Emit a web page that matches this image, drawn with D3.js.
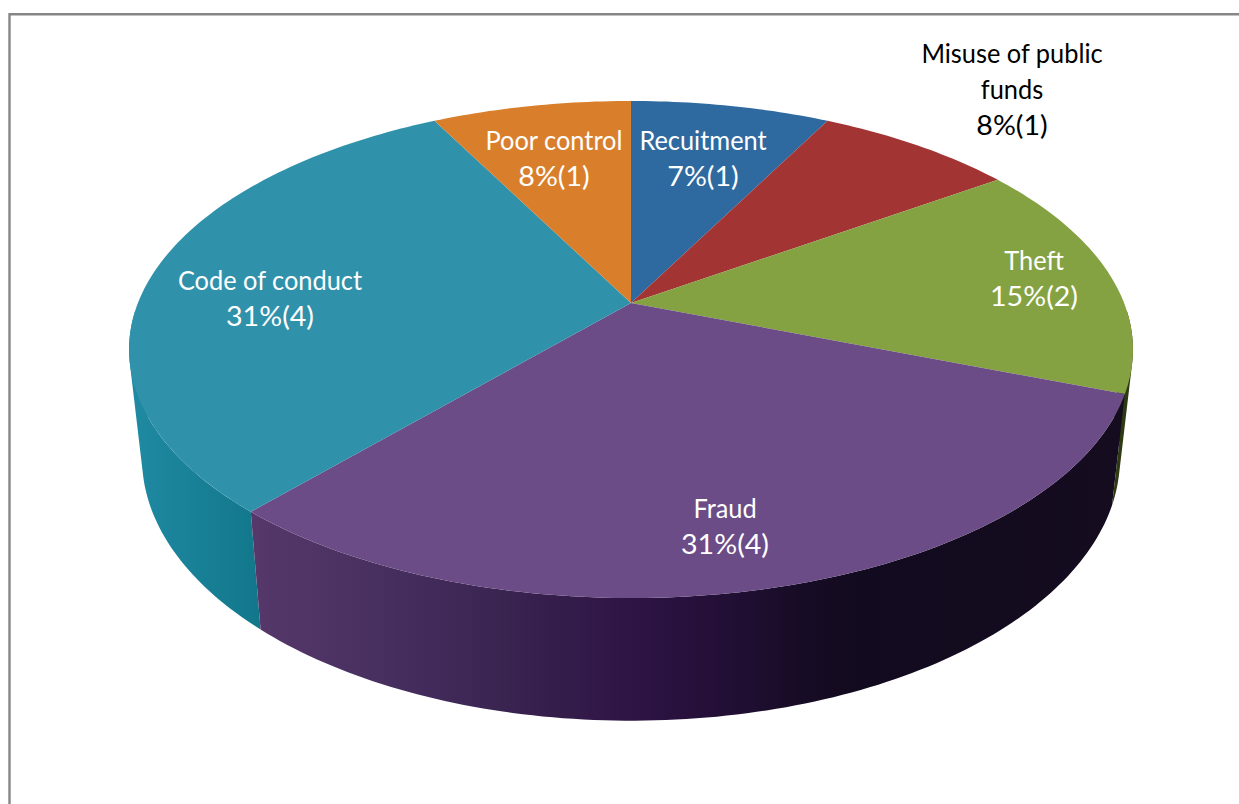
<!DOCTYPE html>
<html>
<head>
<meta charset="utf-8">
<style>
  html, body { margin: 0; padding: 0; background: #fff; }
  svg { display: block; }
  text { font-family: Lato, "Liberation Sans", sans-serif; font-size: 27px; }
</style>
</head>
<body>
<svg id="chart" width="1239" height="804"></svg>
<script src="https://cdn.jsdelivr.net/npm/d3@7"></script>
<script>
// Complaint categories, clockwise from twelve o'clock
const categories = ["Recuitment", "Misuse of public funds", "Theft", "Fraud", "Code of conduct", "Poor control"];
const counts = [1, 1, 2, 4, 4, 1];
const percentLabels = ["7%", "8%", "15%", "31%", "31%", "8%"];

const topColors = ["#2e6aa0", "#a33434", "#85a243", "#6b4c87", "#3091ab", "#d97f2c"];
const labelColors = ["#fff", "#000", "#fff", "#fff", "#fff", "#fff"];
const labelLines = [["Recuitment"], ["Misuse of public", "funds"], ["Theft"], ["Fraud"], ["Code of conduct"], ["Poor control"]];
const labelCentres = [[703, 141], [1012, 54], [1034, 261], [725, 509], [270, 281], [554, 141]];
const nameStretch = 0.94;
const shareStretch = 1.06;

const svg = d3.select("#chart");
const defs = svg.append("defs");

// Perspective projection of the disc: u runs right, v runs towards the viewer.
const distance = 5.344;
const topPlane = { cx: 631, cy: 303, f: 2635, g: 1281.6 };
const basePlane = { cx: 631, cy: 409, f: 2567, g: 1354 };
const project = (plane, angle, r = 1) => {
  const u = r * Math.sin(angle), v = -r * Math.cos(angle);
  return [plane.cx + plane.f * u / (distance - v), plane.cy + plane.g * v / (distance - v)];
};

const arcs = d3.pie().value(d => d).sort(null)(counts);
const step = Math.PI / 180;
const samples = (a0, a1) => {
  const n = Math.max(1, Math.ceil((a1 - a0) / step));
  return d3.range(n + 1).map(i => a0 + (a1 - a0) * i / n);
};
const line = d3.line();

// Side wall shading runs horizontally; only the front half of the rim is visible
const wallRange = [Math.PI * 0.51, Math.PI * 1.49];
const wallShades = {
  2: { domain: [1100, 1130], range: ["#2e3a12", "#2e3a12"] },
  3: { domain: [251, 400, 500, 630, 700, 800, 860, 1130],
       range: ["#56386b", "#452e5e", "#3a2450", "#2e1445", "#26103a", "#170c26", "#120a1e", "#150c20"] },
  4: { domain: [130, 260], range: ["#1f8aa3", "#12778b"] }
};

const walls = svg.append("g");
[2, 4, 3].forEach(i => {
  const a = arcs[i], shade = wallShades[i];
  const gradient = defs.append("linearGradient")
    .attr("id", `wall-${i}`)
    .attr("gradientUnits", "userSpaceOnUse")
    .attr("x1", shade.domain[0]).attr("x2", shade.domain[shade.domain.length - 1])
    .attr("y1", 0).attr("y2", 0);
  const span = shade.domain[shade.domain.length - 1] - shade.domain[0];
  shade.domain.forEach((x, k) => gradient.append("stop")
    .attr("offset", (x - shade.domain[0]) / span)
    .attr("stop-color", shade.range[k]));

  // The wall is the union of thin strips, so the silhouette follows the tangent of both rims.
  // Every strip is wound the same way, otherwise strips past the tangent would cancel out.
  const angles = samples(Math.max(a.startAngle, wallRange[0]), Math.min(a.endAngle, wallRange[1]));
  const d = d3.pairs(angles).map(([a0, a1]) => {
    const quad = [
      project(topPlane, a0), project(topPlane, a1),
      project(basePlane, a1), project(basePlane, a0)
    ];
    return line(d3.polygonArea(quad) < 0 ? quad.reverse() : quad) + "Z";
  }).join("");
  walls.append("path").attr("d", d).attr("fill", `url(#wall-${i})`);
});

// Top face of the pie
svg.append("g").selectAll("path").data(arcs).join("path")
  .attr("d", a => line([project(topPlane, 0, 0), ...samples(a.startAngle, a.endAngle).map(t => project(topPlane, t))]) + "Z")
  .attr("fill", (a, i) => topColors[i]);

// Category labels with share and count
const labels = svg.append("g").attr("text-anchor", "middle");
categories.forEach((name, i) => {
  const rows = [...labelLines[i], `${percentLabels[i]}(${counts[i]})`];
  const [x, y] = labelCentres[i];
  labels.append("g").attr("fill", labelColors[i])
    .selectAll("text").data(rows).join("text")
    .attr("transform", (d, k) => `translate(${x},${y + k * 36 + 9}) scale(${k === rows.length - 1 ? shareStretch : nameStretch},1)`)
    .text(d => d);
});

// Chart area border, open on the right and at the bottom
svg.append("path")
  .attr("d", line([[9.5, 804], [9.5, 14.2], [1239, 14.2]]))
  .attr("fill", "none").attr("stroke", "#868686").attr("stroke-width", 2.4);
</script>
</body>
</html>
